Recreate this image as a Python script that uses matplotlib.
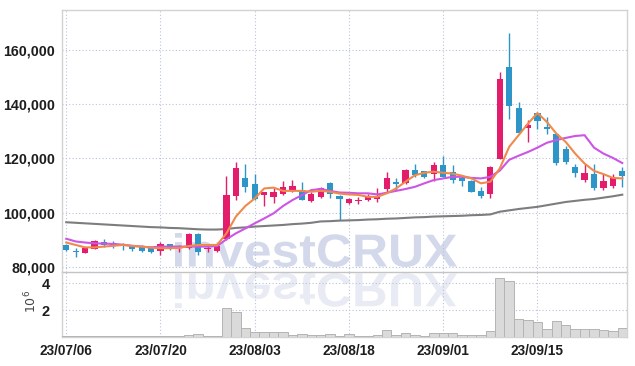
import numpy as np
import matplotlib
matplotlib.use("Agg")
import matplotlib.pyplot as plt
from matplotlib.textpath import TextPath
from matplotlib.patches import PathPatch
from matplotlib.font_manager import FontProperties
from matplotlib.transforms import Affine2D, IdentityTransform

# daily candles, 60 trading days from 23/07/06
opens = [88000, 85900, 85200, 86600, 89200, 88600, 88200, 87700, 87600, 87300,
         85900, 88200, 87100, 86800, 92100, 86500, 85700, 90100, 106200, 112600,
         110500, 106600, 105800, 107000, 108300, 108500, 104300, 105800, 111000, 106100,
         103600, 104200, 104800, 105000, 108800, 111400, 111000, 115700, 115200, 114200,
         117500, 114800, 112600, 111600, 107900, 106900, 119700, 153700, 138800, 131300,
         136800, 131500, 129000, 123400, 116700, 112000, 114200, 109200, 109900, 115300]
highs = [88200, 86800, 87400, 89800, 90200, 89300, 88900, 88000, 88000, 87600,
         89200, 88500, 88000, 92300, 92300, 87600, 88000, 113400, 118700, 118100,
         114200, 107600, 109000, 111700, 112000, 111400, 107700, 109500, 111200, 106300,
         105500, 105800, 107000, 108900, 115000, 112600, 116200, 118100, 115500, 118500,
         121000, 117500, 113800, 112000, 109500, 117100, 152000, 166500, 140900, 134400,
         136800, 135400, 129000, 124600, 118100, 117900, 118100, 114100, 114400, 116700]
lows = [85800, 83700, 84900, 86400, 87400, 86800, 86200, 85800, 85500, 85000,
        84300, 86200, 85300, 86600, 84300, 85300, 85300, 90000, 104600, 107700,
        104600, 102400, 103400, 106400, 107700, 104600, 104000, 105200, 105200, 97200,
        103000, 103300, 104200, 104000, 107100, 108300, 110500, 113200, 112700, 111600,
        113200, 110800, 109800, 107500, 105200, 105200, 119700, 134700, 129400, 126100,
        131000, 129200, 117500, 118100, 113200, 111400, 108500, 108300, 108900, 109500]
closes = [86150, 85400, 86800, 89500, 88000, 87900, 87600, 86400, 85900, 85500,
          88400, 86800, 87700, 92100, 85500, 86700, 87600, 106400, 116300, 109500,
          105100, 107600, 107600, 109500, 109900, 104600, 106800, 108900, 106700, 105100,
          105000, 104600, 105700, 105800, 112600, 110400, 115700, 113800, 113200, 117500,
          113200, 112000, 111700, 107700, 106200, 116700, 149200, 139400, 129400, 132300,
          133900, 130900, 118400, 118500, 114700, 114700, 109200, 111600, 113200, 113600]

# moving averages as drawn on the chart
ma5 = [88900, 88000, 87100, 87100, 87400, 87700, 88000, 87600, 87400, 87000,
       86800, 86800, 86900, 87600, 88000, 88000, 88000, 92300, 98500, 102400,
       105200, 108900, 109200, 108000, 108000, 108000, 107700, 108000, 107700, 107000,
       106700, 106500, 105800, 105800, 107100, 108900, 111400, 113800, 114700, 115100,
       114700, 114400, 113600, 112600, 110800, 111400, 116300, 124300, 128600, 132900,
       136800, 133500, 129200, 126100, 121800, 118100, 115400, 114200, 112800, 112600]
ma20 = [90300, 89300, 88900, 88600, 88500, 88400, 88100, 87700, 87400, 87100,
        87400, 87400, 87400, 87400, 87400, 87400, 87600, 90100, 92300, 94100,
        96000, 97800, 99700, 102400, 104600, 106400, 108300, 108700, 108000, 107400,
        107300, 107100, 107100, 106700, 107300, 108000, 108700, 109500, 110800, 112000,
        112600, 113200, 113200, 112800, 112600, 113200, 115500, 119500, 121000, 122400,
        124000, 125800, 126800, 127600, 128300, 128600, 124000, 121800, 120200, 118300]
ma120 = [96400, 96200, 96000, 95800, 95600, 95400, 95200, 95000, 94800, 94600,
         94500, 94300, 94200, 94000, 93800, 93700, 93700, 93900, 94300, 94500,
         94800, 95000, 95200, 95400, 95700, 95900, 96200, 96700, 96800, 97000,
         97100, 97200, 97400, 97500, 97700, 97800, 98000, 98200, 98300, 98500,
         98600, 98700, 98800, 99000, 99100, 99300, 100300, 100800, 101300, 101700,
         102100, 102700, 103300, 103900, 104300, 104700, 105000, 105500, 106000, 106600]

volume = [50000, 40000, 50000, 60000, 50000, 40000, 40000, 40000, 80000, 50000,
          80000, 50000, 100000, 170000, 250000, 80000, 70000, 2150000, 1850000, 670000,
          370000, 370000, 370000, 370000, 150000, 220000, 150000, 120000, 250000, 100000,
          220000, 80000, 80000, 150000, 550000, 150000, 320000, 150000, 80000, 320000,
          320000, 320000, 150000, 150000, 150000, 470000, 4370000, 4170000, 1330000, 1260000,
          1140000, 620000, 1210000, 910000, 620000, 620000, 620000, 540000, 470000, 670000]

date_labels = ["23/07/06", "23/07/20", "23/08/03", "23/08/18", "23/09/01", "23/09/15"]

UP = "#e31c6c"
DOWN = "#2e95c8"
GRID = "#b9c3da"
SPINE = "#d2d2d2"
TICK_FONT = ["Liberation Sans", "DejaVu Sans"]


def add_watermark(fig):
    fp = FontProperties(family="Liberation Sans", weight="bold")
    path = TextPath((0, 0), "investCRUX", size=50, prop=fp)
    ext = path.get_extents()
    # main text: x 175..457, y 99..133 (display px)
    sx = (457 - 175) / ext.width
    sy = (133 - 99) / ext.height
    main = Affine2D().translate(-ext.x0, -ext.y0).scale(sx, sy).translate(175, 99)
    fig.add_artist(PathPatch(main.transform_path(path), facecolor="#d3d9ea",
                             edgecolor="none", transform=IdentityTransform(), zorder=-5))
    # mirrored copy below
    sy2 = (93 - 58) / ext.height
    mirror = Affine2D().translate(-ext.x0, -ext.y0).scale(sx, -sy2).translate(175, 93)
    fig.add_artist(PathPatch(mirror.transform_path(path), facecolor="#e9ebf4",
                             edgecolor="none", transform=IdentityTransform(), zorder=-5))


def draw_candles(ax, x):
    o = np.array(opens)
    c = np.array(closes)
    colors = [UP if cc >= oo else DOWN for oo, cc in zip(o, c)]
    ax.vlines(x, lows, highs, colors=colors, linewidth=1.0, zorder=3)
    bottom = np.minimum(o, c)
    height = np.maximum(np.abs(c - o), 350)
    ax.bar(x, height, bottom=bottom, width=0.66, color=colors, linewidth=0, zorder=4)


def style_axis(ax):
    ax.set_facecolor("none")
    for side in ["left", "right", "top", "bottom"]:
        ax.spines[side].set_color(SPINE)
        ax.spines[side].set_linewidth(1.0)
    ax.grid(True, color=GRID, linestyle=(0, (1, 2)), linewidth=0.8)
    ax.set_axisbelow(True)
    ax.tick_params(length=0, labelcolor="#1e1e1e")


fig = plt.figure(figsize=(6.35, 3.66), dpi=100)
add_watermark(fig)

ax = fig.add_axes([62 / 635, 1 - 272 / 366, (627 - 62) / 635, (272 - 10) / 366])
axv = fig.add_axes([62 / 635, 1 - 337 / 366, (627 - 62) / 635, (337 - 272) / 366], sharex=ax)

x = np.arange(len(opens))
style_axis(ax)
style_axis(axv)

ax.plot(x, ma120, color="#7d7d7d", linewidth=1.5, zorder=2)
ax.plot(x, ma20, color="#cc55e6", linewidth=1.5, zorder=5)
ax.plot(x, ma5, color="#ef8a4c", linewidth=1.5, zorder=6)
draw_candles(ax, x)

ax.set_xlim(-0.45, 59.5)
ax.set_ylim(78000, 174900)
price_ticks = [80000, 100000, 120000, 140000, 160000]
ax.set_yticks(price_ticks)
ax.set_yticklabels([f"{t:,}" for t in price_ticks], fontfamily=TICK_FONT,
                   fontweight="bold", fontsize=10.3)
ax.tick_params(axis="y", pad=5)
ax.tick_params(axis="x", labelbottom=False)
ax.spines["bottom"].set_color("#c4c4c4")

axv.bar(x, np.array(volume) / 1e6, width=1.0, color="#dadada", edgecolor="#b4b4b4",
        linewidth=0.7, zorder=3)
axv.set_ylim(0, 4.85)
axv.set_yticks([2, 4])
axv.set_yticklabels(["2", "4"], fontfamily=TICK_FONT, fontweight="bold", fontsize=10.5)
axv.tick_params(axis="y", pad=9)
axv.spines["top"].set_visible(False)
axv.text(-0.055, 0.55, r"$10^6$", transform=axv.transAxes, rotation=90,
         ha="center", va="center", fontsize=9, color="#444444")

axv.set_xticks(x[::10])
axv.set_xticklabels(date_labels, fontfamily=TICK_FONT, fontweight="bold", fontsize=9.8)
axv.tick_params(axis="x", pad=5)

fig.savefig("out.png", dpi=100)
